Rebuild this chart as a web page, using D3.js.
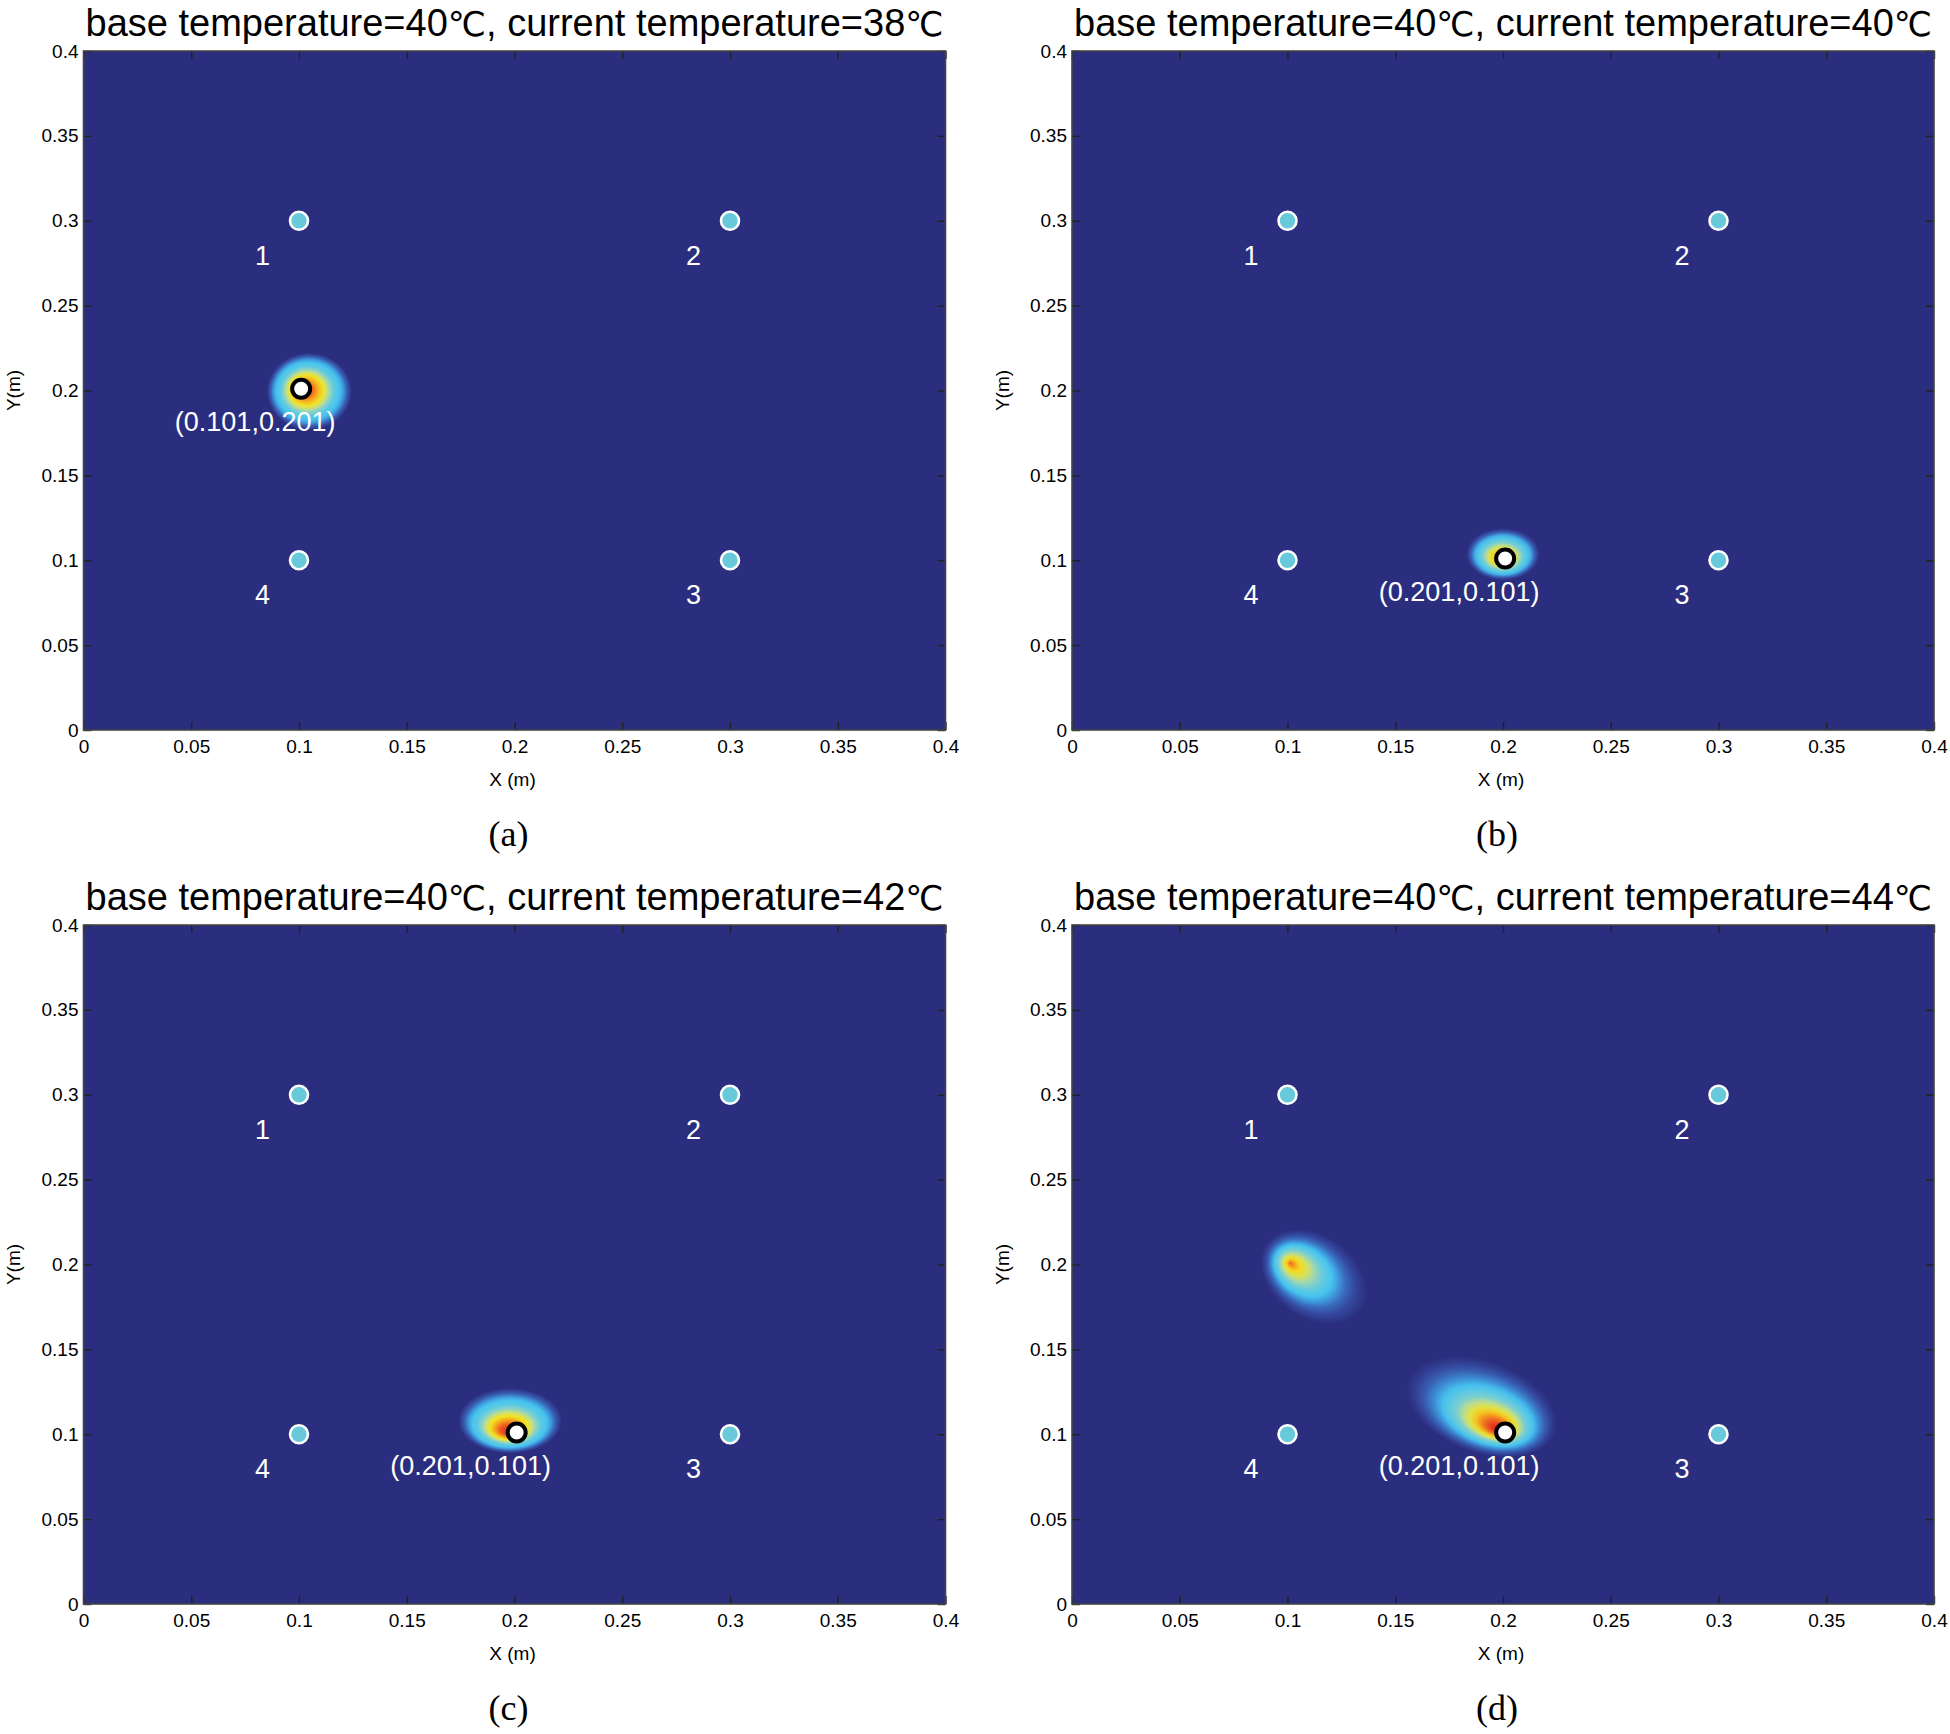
<!DOCTYPE html>
<html><head><meta charset="utf-8">
<script src="https://cdn.jsdelivr.net/npm/d3@7"></script>
<style>body{margin:0;background:#fff;} svg{display:block;}</style>
</head><body>
<script>
// ---------------- data ----------------
const baseTemp = 40;
const currentTemps = [38, 40, 42, 44];
const panelCaptions = ["(a)", "(b)", "(c)", "(d)"];
const xTicks = [0, 0.05, 0.1, 0.15, 0.2, 0.25, 0.3, 0.35, 0.4];
const xTickLabels = ["0", "0.05", "0.1", "0.15", "0.2", "0.25", "0.3", "0.35", "0.4"];
const yTicks = [0, 0.05, 0.1, 0.15, 0.2, 0.25, 0.3, 0.35, 0.4];
const yTickLabels = ["0", "0.05", "0.1", "0.15", "0.2", "0.25", "0.3", "0.35", "0.4"];
const sensorX = [0.1, 0.3, 0.3, 0.1];
const sensorY = [0.3, 0.3, 0.1, 0.1];
const sensorLabels = ["1", "2", "3", "4"];
const sourceX = [0.101, 0.201, 0.201, 0.201];
const sourceY = [0.201, 0.101, 0.101, 0.101];
const sourceLabels = ["(0.101,0.201)", "(0.201,0.101)", "(0.201,0.101)", "(0.201,0.101)"];
// estimated temperature hot spots (m); focus = hottest point; stops = [fraction from focus to edge, normalised level]
const blobs = [
  {panel: 0, cx: 0.1048, cy: 0.1994, rx: 0.0197, ry: 0.0227, angle: 0, fx: 0.1025, fy: 0.2005,
   stops: [[0, 0.92], [0.2, 0.82], [0.3, 0.72], [0.4, 0.63], [0.48, 0.54], [0.56, 0.46], [0.64, 0.42], [0.74, 0.4], [0.82, 0.33], [0.9, 0.2], [0.96, 0.1], [1, 0]]},
  {panel: 1, cx: 0.2000, cy: 0.1036, rx: 0.0170, ry: 0.0153, angle: 0, fx: 0.1995, fy: 0.1010,
   stops: [[0, 0.78], [0.22, 0.68], [0.36, 0.6], [0.46, 0.5], [0.55, 0.44], [0.66, 0.41], [0.76, 0.36], [0.85, 0.24], [0.93, 0.12], [1, 0]]},
  {panel: 2, cx: 0.198, cy: 0.108, rx: 0.024, ry: 0.0192, angle: 0, fx: 0.197, fy: 0.1015,
   stops: [[0, 0.95], [0.15, 0.87], [0.26, 0.76], [0.36, 0.64], [0.45, 0.54], [0.53, 0.46], [0.62, 0.42], [0.72, 0.4], [0.8, 0.32], [0.88, 0.2], [0.95, 0.1], [1, 0]]},
  {panel: 3, cx: 0.1123, cy: 0.1927, rx: 0.0269, ry: 0.0245, angle: 35, fx: 0.1012, fy: 0.2008,
   stops: [[0, 0.85], [0.06, 0.76], [0.13, 0.66], [0.22, 0.58], [0.3, 0.5], [0.38, 0.45], [0.46, 0.42], [0.54, 0.4], [0.62, 0.33], [0.72, 0.24], [0.84, 0.13], [1, 0]]},
  {panel: 3, cx: 0.1901, cy: 0.1163, rx: 0.0362, ry: 0.0270, angle: 20, fx: 0.1978, fy: 0.1025,
   stops: [[0, 1.0], [0.08, 0.92], [0.16, 0.82], [0.24, 0.7], [0.31, 0.6], [0.38, 0.52], [0.45, 0.45], [0.53, 0.42], [0.61, 0.39], [0.7, 0.3], [0.8, 0.2], [0.9, 0.1], [1, 0]]}
];
const colorLevels = [0, 0.12, 0.25, 0.33, 0.4, 0.47, 0.54, 0.64, 0.76, 0.88, 1];
const colorRange = ["#2b2e7e", "#33449a", "#3a6ec0", "#3f9ddf", "#46c4ef", "#93d4c2", "#c8df7e", "#f3e41e", "#f6a01f", "#ec4c20", "#d41b1f"];

// ---------------- layout ----------------
const W = 1950, H = 1734;
const pw = 862, ph = 679;
const panelLeft = [83.5, 1072, 83.5, 1072];
const panelTop = [51, 51, 925, 925];
const titleWidth = 858;
const sans = "'Liberation Sans', Arial, Helvetica, sans-serif";
const serif = "'Liberation Serif', 'Times New Roman', serif";
const degFont = "'DejaVu Sans', 'Noto Sans', sans-serif";
const bg = colorRange[0];

const color = d3.scaleLinear().domain(colorLevels).range(colorRange).interpolate(d3.interpolateRgb);

const svg = d3.select("body").append("svg").attr("width", W).attr("height", H);
const defs = svg.append("defs");

currentTemps.forEach((ct, i) => {
  const x = d3.scaleLinear().domain([0, 0.4]).range([0, pw]);
  const y = d3.scaleLinear().domain([0, 0.4]).range([ph, 0]);
  const g = svg.append("g").attr("transform", `translate(${panelLeft[i]},${panelTop[i]})`);

  // title
  const t = g.append("text").attr("x", pw / 2).attr("y", -15).attr("text-anchor", "middle")
    .attr("font-family", sans).attr("font-size", 38).attr("fill", "#000");
  t.append("tspan").text(`base temperature=${baseTemp}`);
  t.append("tspan").attr("font-family", degFont).attr("font-size", 34).text("℃");
  t.append("tspan").text(`, current temperature=${ct}`);
  t.append("tspan").attr("font-family", degFont).attr("font-size", 34).text("℃");
  const len = t.node().getComputedTextLength();
  if (len > 0) {
    const k = titleWidth / len;
    t.attr("font-size", 38 * k);
    t.selectAll("tspan").filter(function () { return this.getAttribute("font-size"); })
      .attr("font-size", 34 * k);
  }

  // background field
  g.append("rect").attr("width", pw).attr("height", ph).attr("fill", bg);

  const clipId = "clip" + i;
  defs.append("clipPath").attr("id", clipId).append("rect").attr("width", pw).attr("height", ph);
  const field = g.append("g").attr("clip-path", `url(#${clipId})`);

  blobs.filter(b => b.panel === i).forEach((b, j) => {
    const rxPx = x(b.rx) - x(0), ryPx = y(0) - y(b.ry);
    const cxPx = x(b.cx), cyPx = y(b.cy);
    const dx = x(b.fx) - cxPx, dy = y(b.fy) - cyPx;
    const a = b.angle * Math.PI / 180;
    const lx = dx * Math.cos(a) + dy * Math.sin(a);
    const ly = -dx * Math.sin(a) + dy * Math.cos(a);
    const gid = `grad${i}_${j}`;
    const grad = defs.append("radialGradient").attr("id", gid)
      .attr("cx", 0.5).attr("cy", 0.5).attr("r", 0.5)
      .attr("fx", 0.5 + lx / (2 * rxPx)).attr("fy", 0.5 + ly / (2 * ryPx));
    b.stops.forEach(s => grad.append("stop").attr("offset", s[0]).attr("stop-color", color(s[1])));
    field.append("g").attr("transform", `translate(${cxPx},${cyPx}) rotate(${b.angle})`)
      .append("ellipse").attr("rx", rxPx).attr("ry", ryPx).attr("fill", `url(#${gid})`);
  });

  // sensors
  sensorX.forEach((sx, k) => {
    g.append("circle").attr("cx", x(sx)).attr("cy", y(sensorY[k])).attr("r", 9)
      .attr("fill", "#67c9da").attr("stroke", "#fff").attr("stroke-width", 2.6);
    g.append("text").attr("x", x(sx) - 36.5).attr("y", y(sensorY[k]) + 44)
      .attr("text-anchor", "middle").attr("font-family", sans).attr("font-size", 27)
      .attr("fill", "#fff").text(sensorLabels[k]);
  });

  // source
  g.append("circle").attr("cx", x(sourceX[i])).attr("cy", y(sourceY[i])).attr("r", 9)
    .attr("fill", "#fff").attr("stroke", "#000").attr("stroke-width", 4);
  g.append("text").attr("x", x(sourceX[i]) - 46).attr("y", y(sourceY[i]) + 42.5)
    .attr("text-anchor", "middle").attr("font-family", sans).attr("font-size", 27)
    .attr("fill", "#fff").text(sourceLabels[i]);

  // axes (inward ticks on all sides)
  const fmtX = d => xTickLabels[xTicks.indexOf(d)];
  const fmtY = d => yTickLabels[yTicks.indexOf(d)];
  const style = sel => {
    sel.select(".domain").remove();
    sel.selectAll(".tick line").attr("stroke", "#222").attr("stroke-width", 1.4);
    sel.selectAll("text").attr("font-family", sans).attr("font-size", 19).attr("fill", "#000");
  };
  g.append("g").attr("transform", `translate(0,${ph})`)
    .call(d3.axisBottom(x).tickValues(xTicks).tickFormat(fmtX).tickSizeInner(-8).tickSizeOuter(0).tickPadding(10))
    .call(style);
  g.append("g")
    .call(d3.axisTop(x).tickValues(xTicks).tickFormat("").tickSizeInner(-8).tickSizeOuter(0))
    .call(style);
  g.append("g")
    .call(d3.axisLeft(y).tickValues(yTicks).tickFormat(fmtY).tickSizeInner(-8).tickSizeOuter(0).tickPadding(5))
    .call(style);
  g.append("g").attr("transform", `translate(${pw},0)`)
    .call(d3.axisRight(y).tickValues(yTicks).tickFormat("").tickSizeInner(-8).tickSizeOuter(0))
    .call(style);

  g.append("rect").attr("width", pw).attr("height", ph).attr("fill", "none")
    .attr("stroke", "#444").attr("stroke-width", 1.6);

  // axis labels
  g.append("text").attr("x", pw / 2 - 2).attr("y", ph + 56).attr("text-anchor", "middle")
    .attr("font-family", sans).attr("font-size", 19).text("X (m)");
  g.append("text").attr("transform", `translate(-70,${ph / 2}) rotate(-90)`)
    .attr("text-anchor", "middle").attr("dy", "0.35em")
    .attr("font-family", sans).attr("font-size", 19).text("Y(m)");

  // caption
  g.append("text").attr("x", pw / 2 - 6).attr("y", ph + 116).attr("text-anchor", "middle")
    .attr("font-family", serif).attr("font-size", 36).text(panelCaptions[i]);
});
</script>
</body></html>
